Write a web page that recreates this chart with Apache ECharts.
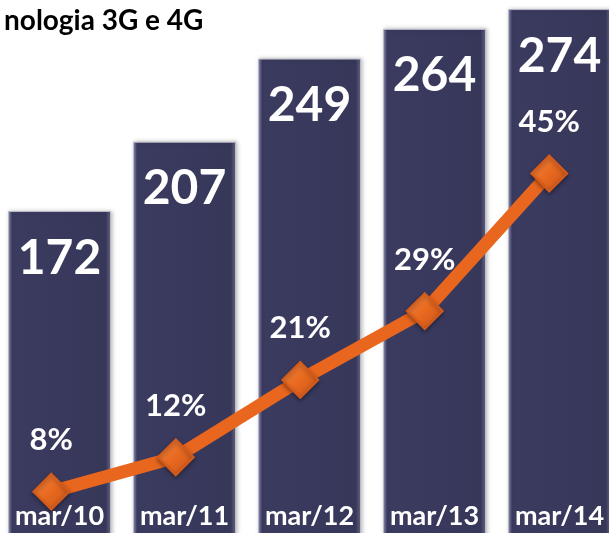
<!DOCTYPE html>
<html>
<head>
<meta charset="utf-8">
<script src="https://cdn.jsdelivr.net/npm/echarts@6/dist/echarts.min.js"></script>
<style>
  html, body { margin: 0; padding: 0; background: #fff; }
  #chart { width: 609px; height: 533px; }
</style>
</head>
<body>
<div id="chart"></div>
<script>
  // dados
  var periodos = ['mar/10', 'mar/11', 'mar/12', 'mar/13', 'mar/14'];
  var acessos = [172, 207, 249, 264, 274];
  var percentual = [8, 12, 21, 29, 45];
  var titulo = 'nologia 3G e 4G';

  var fonte = 'Lato';
  var myChart = echarts.init(document.getElementById('chart'));

  var option = {
    animation: false,
    backgroundColor: '#ffffff',
    title: {
      text: titulo,
      left: -1,
      top: 2,
      textStyle: { fontFamily: fonte, fontWeight: 'bold', fontSize: 28, color: '#000' }
    },
    grid: [
      { left: -3, right: -13, top: -2.8, bottom: -18.6, outerBoundsMode: 'none' },
      { left: -11, right: -2.5, top: 1.5, bottom: -27.5, outerBoundsMode: 'none' }
    ],
    xAxis: [
      {
        type: 'category', gridIndex: 0, data: periodos, z: 10,
        axisLine: { show: false }, axisTick: { show: false },
        axisLabel: {
          inside: true, margin: 22, color: '#fff',
          fontFamily: fonte, fontWeight: 'bold', fontSize: 27
        }
      },
      {
        type: 'category', gridIndex: 1, data: periodos, show: false
      }
    ],
    yAxis: [
      { type: 'value', gridIndex: 0, min: 0, max: 280, show: false, splitLine: { show: false } },
      { type: 'value', gridIndex: 1, min: 0, max: 65, show: false, splitLine: { show: false } }
    ],
    series: [
      {
        name: 'Acessos',
        type: 'bar',
        xAxisIndex: 0, yAxisIndex: 0,
        data: acessos,
        barWidth: 103,
        itemStyle: {
          color: new echarts.graphic.LinearGradient(0, 0, 1, 0, [
            { offset: 0, color: '#9a9ac4' },
            { offset: 0.04, color: '#3b3b60' },
            { offset: 0.95, color: '#37375a' },
            { offset: 1, color: '#6a6a86' }
          ]),
          borderColor: '#b8b8c8',
          borderWidth: 1,
          shadowColor: 'rgba(0,0,0,0.25)',
          shadowBlur: 4,
          shadowOffsetX: 1
        },
        label: {
          show: true, position: 'insideTop', distance: 23,
          color: '#fff', fontFamily: fonte, fontWeight: 'bold', fontSize: 48
        }
      },
      {
        name: 'Percentual',
        type: 'line',
        xAxisIndex: 1, yAxisIndex: 1,
        data: percentual,
        z: 5,
        symbol: 'diamond',
        symbolSize: 36,
        lineStyle: { color: '#e8661e', width: 13 },
        itemStyle: {
          color: new echarts.graphic.LinearGradient(0, 0, 1, 1, [
            { offset: 0, color: '#f48a45' },
            { offset: 0.5, color: '#e8691f' },
            { offset: 1, color: '#c4521a' }
          ]),
          borderColor: '#d45a1b',
          borderWidth: 2,
          shadowColor: 'rgba(0,0,0,0.35)',
          shadowBlur: 4,
          shadowOffsetY: 2
        },
        label: {
          show: true, position: 'top', distance: 17,
          formatter: function (p) { return p.value + '%'; },
          color: '#fff', fontFamily: fonte, fontWeight: 'bold', fontSize: 31
        }
      }
    ]
  };

  myChart.setOption(option);
</script>
</body>
</html>
